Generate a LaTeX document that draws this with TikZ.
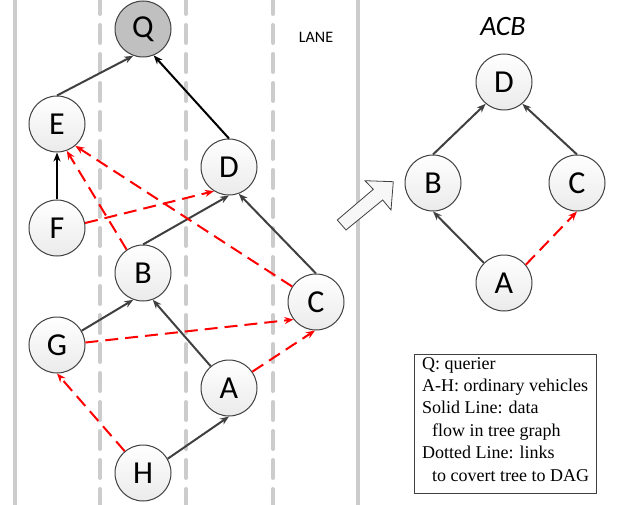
\documentclass[tikz,border=0pt]{standalone}
\usepackage{fontspec}
\setmainfont{Liberation Serif}
\newfontfamily\calib{Carlito}
\usetikzlibrary{arrows.meta}
\definecolor{lanegray}{RGB}{204,204,204}
\definecolor{edgegray}{RGB}{64,64,64}
\definecolor{qgray}{RGB}{192,192,192}
\tikzset{
  veh/.style={circle, draw=edgegray, line width=1pt, minimum size=56pt, inner sep=0pt,
    top color=white, bottom color=gray!16, font=\calib\fontsize{32}{32}\selectfont},
  lanesolid/.style={draw=lanegray, line width=4pt},
  lanedash/.style={draw=lanegray, line width=4pt, line cap=round, dash pattern=on 18pt off 11pt},
  tree/.style={draw=edgegray, line width=2pt, -{Stealth[length=9pt,width=7pt]}},
  treeblk/.style={draw=black, line width=2pt, -{Stealth[length=9pt,width=7pt]}},
  dag/.style={draw=red, line width=2pt, dash pattern=on 13pt off 7pt, -{Stealth[length=9pt,width=7pt]}},
}
\begin{document}
\begin{tikzpicture}[x=1pt,y=-1pt]
\useasboundingbox (0,0) rectangle (618,505);
% lanes
\draw[lanesolid] (15,0) -- (15,505);
\draw[lanesolid] (358,0) -- (358,505);
\draw[lanedash] (100,-4) -- (100,505);
\draw[lanedash] (186,-4) -- (186,505);
\draw[lanedash] (273,-4) -- (273,505);
\node[font=\calib\fontsize{16}{16}\selectfont] (lane) at (316,37) {LANE};
% nodes left
\node[veh, top color=qgray, bottom color=qgray] (Q) at (143,29) {Q};
\node[veh] (E) at (57,124) {E};
\node[veh] (D) at (229,167) {D};
\node[veh] (F) at (57,228) {F};
\node[veh] (B) at (143,273) {B};
\node[veh] (C) at (316,302) {C};
\node[veh] (G) at (57,345) {G};
\node[veh] (A) at (229,388) {A};
\node[veh] (H) at (143,473) {H};
% tree edges
\draw[tree] (E.north) -- (Q.250);
\draw[treeblk] (D.north) -- (Q.292);
\draw[treeblk] (F.north) -- (E.south);
\draw[tree] (B.north) -- (D.south);
\draw[tree] (C.north) -- (D.290);
\draw[tree] (G.30) -- (B.250);
\draw[tree] (A.130) -- (B.290);
\draw[tree] (H.30) -- (A.south);
% dag edges
\draw[dag] (F.10) -- (D.238);
\draw[dag] (B.125) -- (E.290);
\draw[dag] (C.147) -- (E.310);
\draw[dag] (G.5) -- (C.218);
\draw[dag] (A.35) -- (C.268);
\draw[dag] (H.130) -- (G.south);
% big arrow
\draw[draw=edgegray, fill=gray!6, line width=0.8pt, line join=miter]
  (337.3,220) -- (373.3,189.3) -- (365,180.7) -- (393.3,181.7) -- (391,210) -- (382.7,200) -- (346,230) -- cycle;
% right graph
\node[font=\calib\itshape\fontsize{28}{28}\selectfont] (acb) at (503,27) {ACB};
\node[veh] (rD) at (504,82) {D};
\node[veh] (rB) at (433,183) {B};
\node[veh] (rC) at (577,183) {C};
\node[veh] (rA) at (504,283) {A};
\draw[tree] (rB.north) -- (rD.230);
\draw[tree] (rC.north) -- (rD.310);
\draw[tree] (rA.135) -- (rB.south);
\draw[dag] (rA.40) -- (rC.south);
% legend
\node[draw=edgegray, line width=0.8pt, minimum width=182pt, minimum height=139pt, inner sep=0pt] (box) at (505,423.5) {};
\node[anchor=north west, align=left, inner sep=0pt, font=\fontsize{18}{22.4}\selectfont] (legend) at (422,357)
  {Q: querier\\A-H: ordinary vehicles\\Solid Line: data\\\hspace*{10pt}flow in tree graph\\Dotted Line: links\\\hspace*{10pt}to covert tree to DAG};
\end{tikzpicture}
\end{document}
